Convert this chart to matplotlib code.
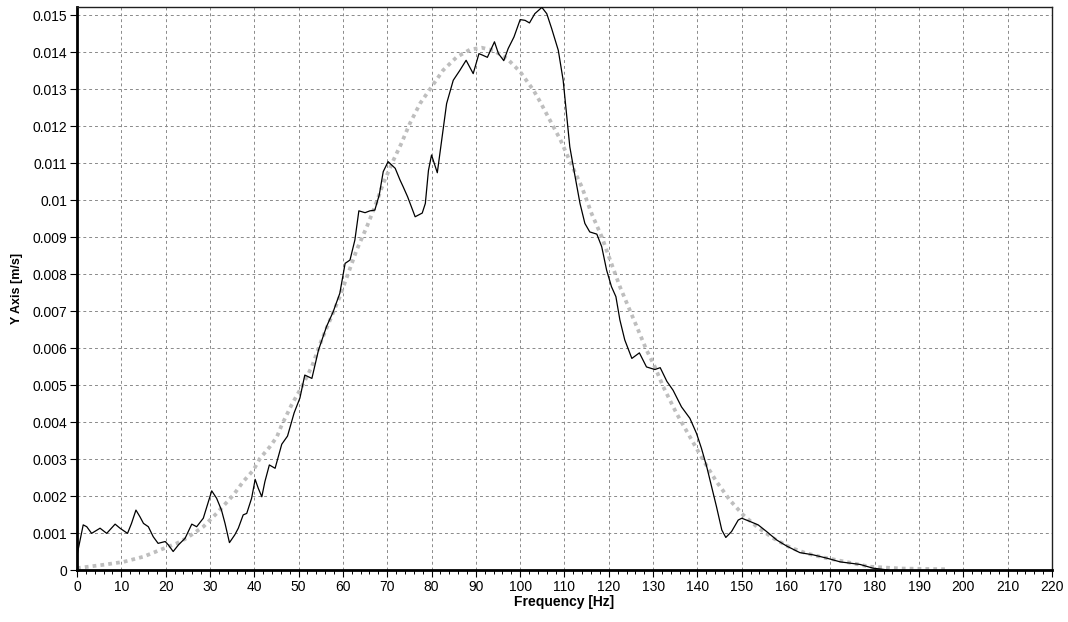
import matplotlib
matplotlib.use('Agg')
import matplotlib.pyplot as plt
from matplotlib.ticker import MultipleLocator

# measured spectrum (Hz, m/s)
freq = [0, 1.4, 2.2, 3.3, 5.2, 6.7, 8.6, 9.7, 11.4, 12.3, 13.3, 14.2, 15, 16.1, 17.2,
        18.3, 19.9, 20.6, 21.7, 22.9, 24.4, 25.9, 27, 28.5, 30.4, 31.5, 32.6, 33.4,
        34.4, 35.6, 36.4, 37.5, 38.3, 39.4, 40.2, 40.9, 41.7, 42.4, 43.4, 44.7, 46.2,
        47.5, 49.0, 50.3, 51.4, 53, 54.5, 56.3, 57.8, 59.3, 60.5, 61.6, 62.7, 63.6,
        65, 66.1, 67.2, 68.2, 69.1, 70.2, 71.8, 72.9, 73.6, 74.6, 76.3, 77.9, 78.6,
        79.3, 80, 81.3, 82.3, 83.4, 84.9, 86.4, 87.8, 89.4, 90.7, 91.5, 92.6, 94.2,
        95.1, 96.3, 97.3, 98.6, 100, 101.1, 102.1, 103.3, 104.9, 106, 107.1, 108.6,
        109.7, 111.2, 112.4, 113.5, 114.6, 115.7, 117.3, 118.4, 119.5, 120.6, 121.6,
        122.5, 123.6, 125.2, 126.9, 128.5, 130.4, 131.6, 133.1, 134.5, 136.4, 138.3,
        139.8, 140.9, 142.1, 143.2, 144.3, 145.5, 146.4, 147.7, 149.2, 150, 151.9,
        153.7, 155.6, 157.9, 160.1, 163.1, 166.1, 169.2, 172.2, 176.7, 179.6, 183]
amp = [0.0004, 0.00122, 0.00117, 0.00099, 0.00113, 0.00099, 0.00124, 0.00113, 0.00099,
       0.00126, 0.00162, 0.00144, 0.00126, 0.00117, 0.0009, 0.00072, 0.00077, 0.00068,
       0.0005, 0.00068, 0.00086, 0.00124, 0.00117, 0.0014, 0.00214, 0.00194, 0.00162,
       0.00126, 0.00074, 0.00095, 0.00113, 0.00149, 0.00153, 0.00194, 0.00245, 0.00221,
       0.00198, 0.00239, 0.00284, 0.00275, 0.0034, 0.00362, 0.00425, 0.00465, 0.00527,
       0.00518, 0.00595, 0.00658, 0.00698, 0.00748, 0.00829, 0.00838, 0.00892, 0.00971,
       0.00966, 0.00971, 0.00973, 0.01014, 0.01077, 0.01104, 0.01086, 0.01054, 0.01036,
       0.01009, 0.00955, 0.00965, 0.00991, 0.0108, 0.01122, 0.01074, 0.01162, 0.01261,
       0.01324, 0.01351, 0.01378, 0.01342, 0.01396, 0.01392, 0.01386, 0.01428, 0.01396,
       0.01377, 0.0141, 0.01441, 0.01488, 0.01486, 0.01479, 0.01504, 0.01521, 0.01504,
       0.01464, 0.01405, 0.01324, 0.01144, 0.01063, 0.00991, 0.00937, 0.00914, 0.00908,
       0.00874, 0.00811, 0.00766, 0.00739, 0.00676, 0.00622, 0.00572, 0.00587, 0.00549,
       0.00542, 0.00547, 0.0051, 0.00486, 0.00441, 0.0041, 0.00369, 0.00329, 0.00279,
       0.00225, 0.00171, 0.00108, 0.00088, 0.00104, 0.00135, 0.0014, 0.00131, 0.00122,
       0.00104, 0.00081, 0.00065, 0.00047, 0.00041, 0.00032, 0.00022, 0.00015, 0.00005,
       0.0]

# fitted envelope
fit_freq = [0, 5.9, 10.5, 15, 18.7, 22.5, 24.7, 28.5, 31.5, 35.3, 37.5, 39.8, 41.3, 43.5,
            45.1, 46.2, 48.4, 50.7, 53, 55.2, 57.1, 59.3, 61.2, 63.1, 65.4, 67.2, 69.1,
            71.4, 73.1, 75.1, 77.4, 80, 82.6, 85.7, 88.7, 91.3, 93.9, 97, 100, 103,
            104.5, 106.4, 109, 111.6, 113.9, 116.1, 118.4, 120.3, 122.5, 124.4, 126.3,
            128.5, 130.4, 132.3, 135.3, 138.3, 141.3, 144.3, 147.3, 150.3, 153.4, 157.1,
            160.9, 164.6, 168.4, 172.2, 178.9, 186, 196.2]
fit_amp = [0.00005, 0.00014, 0.00022, 0.00036, 0.00054, 0.00072, 0.00086, 0.00117, 0.00153,
           0.00203, 0.00239, 0.0027, 0.00302, 0.00333, 0.0036, 0.00392, 0.00446, 0.00495,
           0.0055, 0.00622, 0.00676, 0.00739, 0.00802, 0.00865, 0.00928, 0.00982, 0.01045,
           0.01108, 0.01151, 0.01207, 0.01261, 0.01306, 0.01351, 0.01387, 0.01407, 0.01412,
           0.01405, 0.01383, 0.01347, 0.01297, 0.01266, 0.01223, 0.01165, 0.01095, 0.01036,
           0.00964, 0.00901, 0.00838, 0.00766, 0.00712, 0.00658, 0.00595, 0.00549, 0.00495,
           0.00423, 0.0036, 0.00297, 0.00239, 0.00189, 0.00149, 0.00117, 0.00086, 0.00061,
           0.00045, 0.00034, 0.00025, 0.00009, 0.00004, 0.00002]

plt.rcParams['font.family'] = ['Liberation Sans', 'DejaVu Sans']

fig = plt.figure(figsize=(10.68, 6.22), dpi=100)
ax = fig.add_axes([0.0721, 0.0836, 0.9129, 0.9051])

ax.plot(fit_freq, fit_amp, color='#bebebe', lw=2.7, linestyle=(0, (1, 1.1)),
        dash_capstyle='butt', zorder=2)
ax.plot(freq, amp, color='black', lw=0.9, zorder=3)

ax.set_xlim(0, 220)
ax.set_ylim(0, 0.01522)
ax.xaxis.set_major_locator(MultipleLocator(10))
ax.xaxis.set_minor_locator(MultipleLocator(2))
ax.set_yticks([i / 1000 for i in range(16)])
ax.set_yticklabels(['0'] + ['%g' % (i / 1000) for i in range(1, 16)])

ax.grid(True, which='major', color='#8a8a8a', linestyle=(0, (3, 3)), lw=0.7)
ax.tick_params(which='major', direction='out', length=5, width=0.8, labelsize=10,
               pad=2, colors='black')
ax.tick_params(axis='x', which='minor', direction='out', length=3, width=0.7)

for side in ['left', 'bottom']:
    ax.spines[side].set_linewidth(2)
for side in ['top', 'right']:
    ax.spines[side].set_linewidth(1)
    ax.spines[side].set_color('#202020')

ax.set_xlabel('Frequency [Hz]', fontsize=10, fontweight='bold', labelpad=1)
ax.set_ylabel('Y Axis [m/s]', fontsize=9, fontweight='bold', labelpad=7)

fig.savefig('out.png', dpi=100)
